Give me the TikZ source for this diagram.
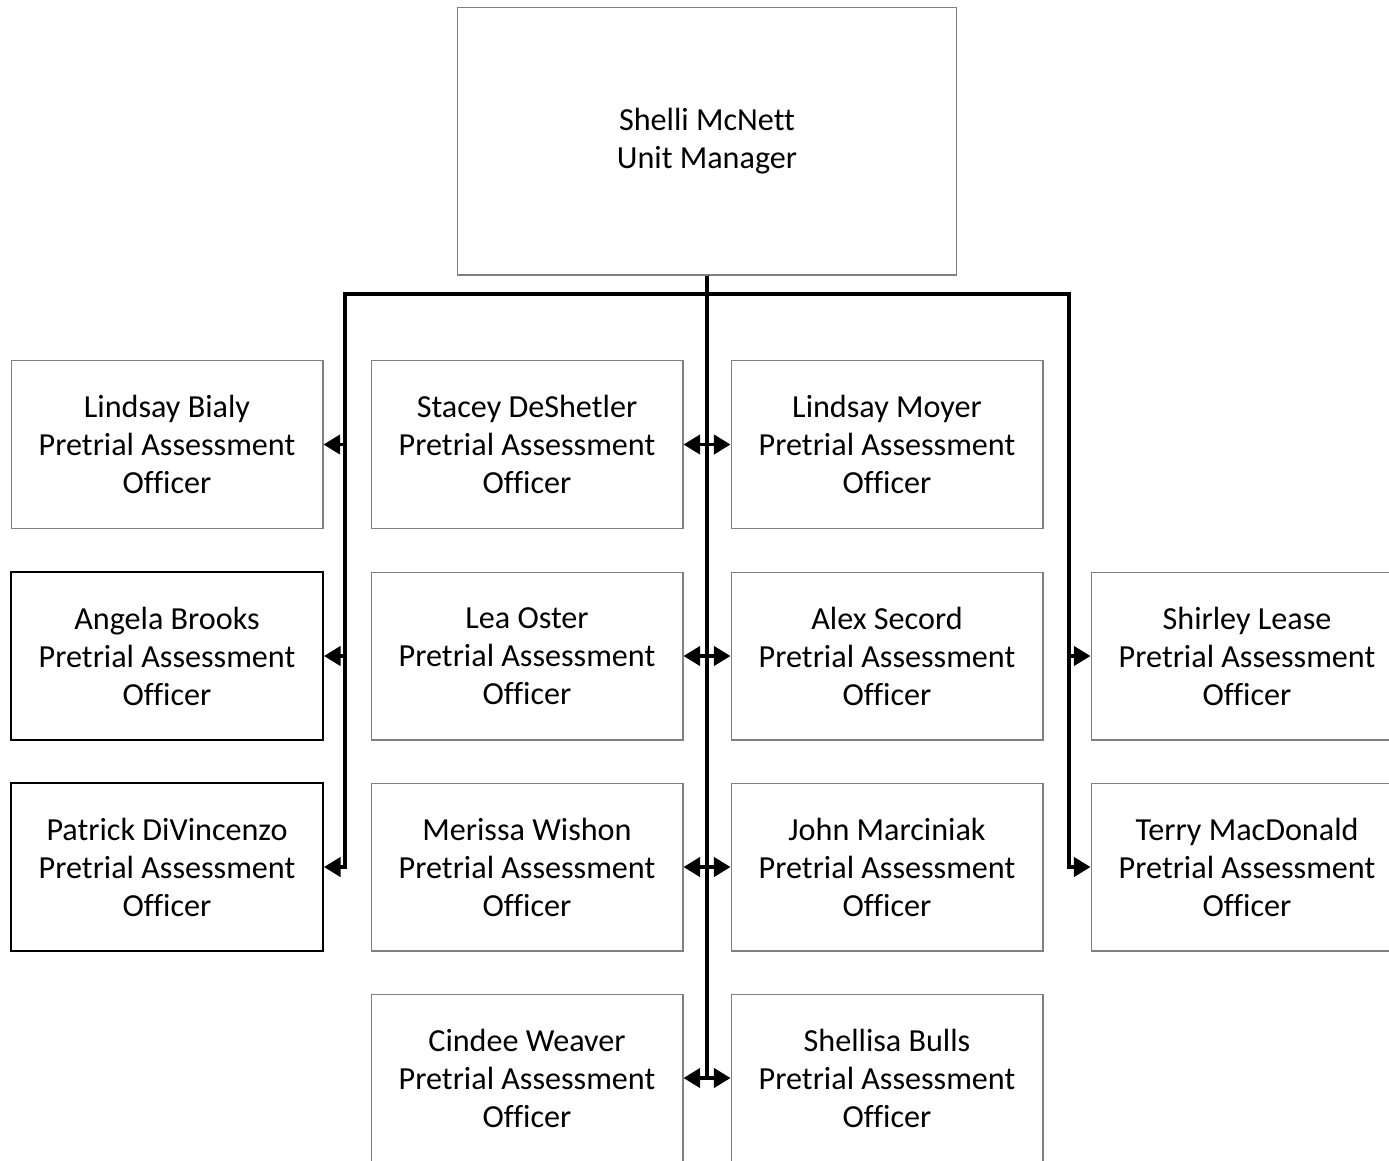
\documentclass[tikz,border=0pt]{standalone}
\usepackage{fontspec}
\setmainfont{Carlito}[Ligatures=CommonOff]
\usetikzlibrary{arrows.meta}

\begin{document}
\begin{tikzpicture}[x=0.02cm, y=-0.02cm,
   staff/.style={draw=gray, line width=0.6pt, minimum width=6.24cm, minimum height=3.36cm,
      align=center, font=\fontsize{18.3}{21.6}\selectfont},
   boxed/.style={staff, draw=black, line width=1.1pt},
   conn/.style={line width=2pt, -{Triangle[length=9.5pt, width=11pt]}}]
   \useasboundingbox (0,0) rectangle (1389,1160);
   % Manager
   \node[staff, minimum width=10cm, minimum height=5.36cm] (mgr) at (707,141) {Shelli McNett\\Unit Manager};
   % Left column
   \node[staff] (bialy) at (167,444.5) {Lindsay Bialy\\Pretrial Assessment\\Officer};
   \node[boxed] (brooks) at (167,656) {Angela Brooks\\Pretrial Assessment\\Officer};
   \node[boxed] (divincenzo) at (167,867) {Patrick DiVincenzo\\Pretrial Assessment\\Officer};
   % Middle left column
   \node[staff] (deshetler) at (527,444.5) {Stacey DeShetler\\Pretrial Assessment\\Officer};
   \node[staff] (oster) at (527,656) {Lea Oster\\Pretrial Assessment\\Officer};
   \node[staff] (wishon) at (527,867) {Merissa Wishon\\Pretrial Assessment\\Officer};
   \node[staff] (weaver) at (527,1078) {Cindee Weaver\\Pretrial Assessment\\Officer};
   % Middle right column
   \node[staff] (moyer) at (887,444.5) {Lindsay Moyer\\Pretrial Assessment\\Officer};
   \node[staff] (secord) at (887,656) {Alex Secord\\Pretrial Assessment\\Officer};
   \node[staff] (marciniak) at (887,867) {John Marciniak\\Pretrial Assessment\\Officer};
   \node[staff] (bulls) at (887,1078) {Shellisa Bulls\\Pretrial Assessment\\Officer};
   % Right column
   \node[staff] (lease) at (1247,656) {Shirley Lease\\Pretrial Assessment\\Officer};
   \node[staff] (macdonald) at (1247,867) {Terry MacDonald\\Pretrial Assessment\\Officer};
   % Bus ends
   \coordinate (busL) at (345,294);
   \coordinate (busR) at (1069,294);
   % Connectors to the outer columns
   \foreach \n in {bialy, brooks, divincenzo}
      \draw[conn] (mgr.south) |- (busL) |- (\n.east);
   \foreach \n in {lease, macdonald}
      \draw[conn] (mgr.south) |- (busR) |- (\n.west);
   % Connectors along the trunk
   \foreach \n in {deshetler, oster, wishon, weaver}
      \draw[conn] (mgr.south) |- (\n.east);
   \foreach \n in {moyer, secord, marciniak, bulls}
      \draw[conn] (mgr.south) |- (\n.west);
\end{tikzpicture}
\end{document}
